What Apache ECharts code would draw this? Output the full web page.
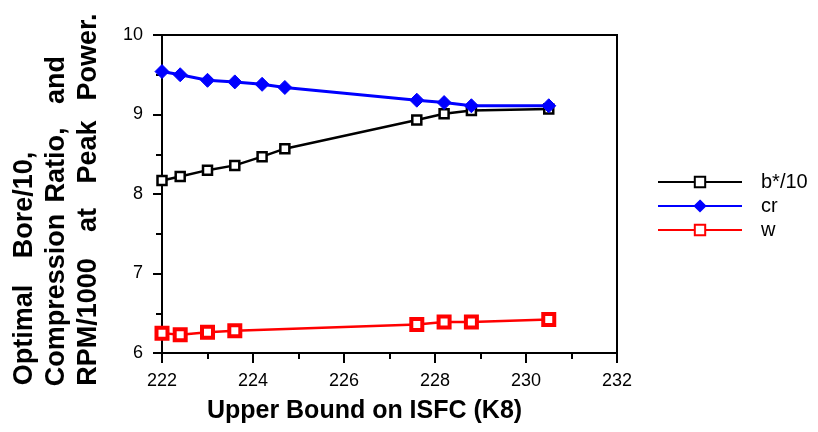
<!DOCTYPE html>
<html>
<head>
<meta charset="utf-8">
<script src="https://cdn.jsdelivr.net/npm/echarts@6/dist/echarts.min.js"></script>
<style>
html,body{margin:0;padding:0;background:#fff;}
#chart{width:818px;height:432px;}
</style>
</head>
<body>
<div id="chart"></div>
<script>
// Data
const isfc = [222.0, 222.4, 223.0, 223.6, 224.2, 224.7, 227.6, 228.2, 228.8, 230.5];
const boreDiv10 = [8.17, 8.22, 8.30, 8.36, 8.47, 8.57, 8.93, 9.01, 9.05, 9.07];
const compRatio = [9.54, 9.50, 9.43, 9.41, 9.38, 9.34, 9.18, 9.15, 9.11, 9.11];
const isfcW = [222.0, 222.4, 223.0, 223.6, 227.6, 228.2, 228.8, 230.5];
const rpmDiv1000 = [6.25, 6.23, 6.26, 6.28, 6.36, 6.39, 6.39, 6.42];
const seriesNames = ['b*/10', 'cr', 'w'];
const xTitle = 'Upper Bound on ISFC (K8)';
const yTitleLines = [
  ['Optimal', 'Bore/10,'],
  ['Compression', 'Ratio,', 'and'],
  ['RPM/1000', 'at', 'Peak', 'Power.']
];
// word centres (y) for the spaced-out rotated title
const yTitleCentres = [
  [335, 205],
  [300, 165, 80],
  [322, 220, 152, 57]
];
const yTitleX = [25, 57, 89];

const pairs = (xs, ys) => xs.map((x, i) => [x, ys[i]]);
const FONT = '"Liberation Sans", Arial, sans-serif';

const graphics = [];
yTitleLines.forEach((line, li) => {
  line.forEach((word, wi) => {
    graphics.push({
      type: 'text',
      x: yTitleX[li],
      y: yTitleCentres[li][wi],
      rotation: Math.PI / 2,
      style: {
        text: word,
        font: 'bold 27px ' + FONT,
        fill: '#000',
        textAlign: 'center',
        textVerticalAlign: 'middle'
      }
    });
  });
});

const chart = echarts.init(document.getElementById('chart'), null, {renderer: 'canvas'});
chart.setOption({
  animation: false,
  backgroundColor: '#fff',
  grid: {
    left: 162, right: 201, top: 35, bottom: 79,
    show: true, borderColor: '#000', borderWidth: 2, backgroundColor: 'transparent'
  },
  graphic: graphics,
  legend: {
    orient: 'vertical',
    left: 652,
    top: 167,
    itemWidth: 84,
    itemHeight: 13,
    itemGap: 4,
    textStyle: {fontFamily: FONT, fontSize: 20, color: '#000', padding: [0, 0, 0, 14]},
    data: seriesNames
  },
  xAxis: {
    type: 'value',
    min: 222, max: 232, interval: 2,
    name: xTitle,
    nameLocation: 'middle',
    nameGap: 46,
    nameTextStyle: {fontFamily: FONT, fontSize: 25, fontWeight: 'bold', color: '#000', padding: [0, 50, 0, 0]},
    axisLine: {show: true, lineStyle: {color: '#000', width: 2}},
    axisTick: {show: true, length: 10, lineStyle: {color: '#000', width: 2}},
    minorTick: {show: true, splitNumber: 2, length: 6, lineStyle: {color: '#000', width: 2}},
    axisLabel: {fontFamily: FONT, fontSize: 18, color: '#000', margin: 19},
    splitLine: {show: false}
  },
  yAxis: {
    type: 'value',
    min: 6, max: 10, interval: 1,
    axisLine: {show: true, lineStyle: {color: '#000', width: 2}},
    axisTick: {show: true, length: 9, lineStyle: {color: '#000', width: 2}},
    minorTick: {show: true, splitNumber: 2, length: 6, lineStyle: {color: '#000', width: 2}},
    axisLabel: {fontFamily: FONT, fontSize: 18, color: '#000', margin: 19},
    splitLine: {show: false}
  },
  series: [
    {
      name: seriesNames[0],
      type: 'line',
      data: pairs(isfc, boreDiv10),
      symbol: 'rect',
      symbolSize: 9,
      lineStyle: {color: '#000', width: 2.5},
      itemStyle: {color: '#fff', borderColor: '#000', borderWidth: 2.5},
      z: 3
    },
    {
      name: seriesNames[1],
      type: 'line',
      data: pairs(isfc, compRatio),
      symbol: 'diamond',
      symbolSize: 14,
      lineStyle: {color: '#0000ff', width: 3},
      itemStyle: {color: '#0000ff', borderColor: '#0000ff', borderWidth: 1},
      z: 4
    },
    {
      name: seriesNames[2],
      type: 'line',
      data: pairs(isfcW, rpmDiv1000),
      symbol: 'rect',
      symbolSize: 11,
      lineStyle: {color: '#ff0000', width: 2.5},
      itemStyle: {color: '#fff', borderColor: '#ff0000', borderWidth: 4},
      z: 3
    }
  ]
});
</script>
</body>
</html>
